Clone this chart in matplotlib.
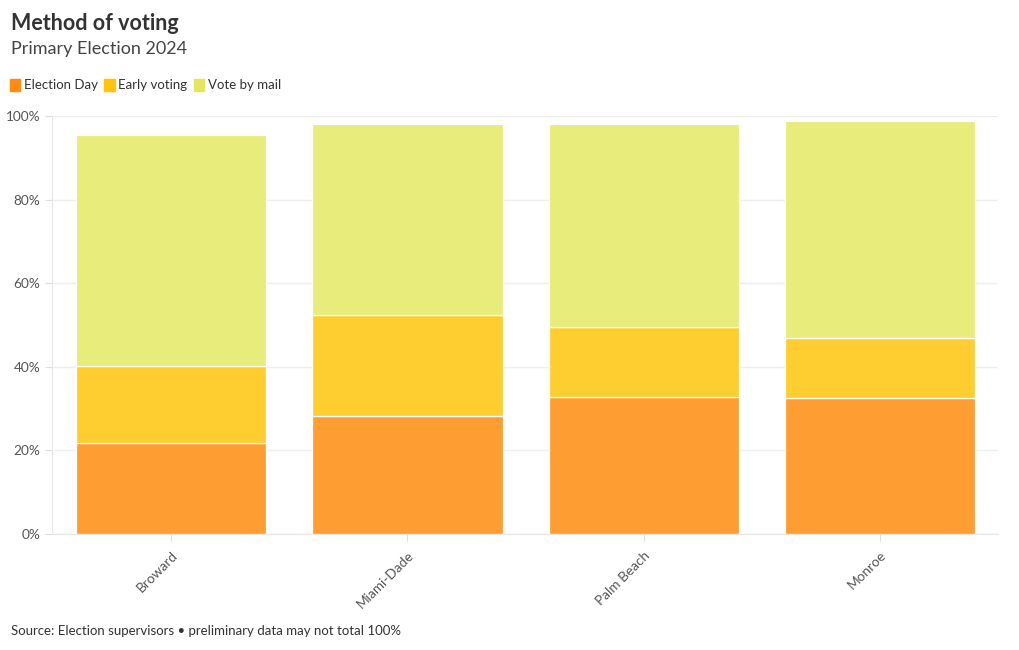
import matplotlib.pyplot as plt
import matplotlib.patches as mpatches
from matplotlib.ticker import FuncFormatter

plt.rcParams['font.family'] = ['Lato', 'DejaVu Sans']

counties = ["Broward", "Miami-Dade", "Palm Beach", "Monroe"]
election_day = [21.8, 28.2, 32.8, 32.5]
early_voting = [18.4, 24.2, 16.7, 14.4]
vote_by_mail = [55.3, 45.7, 48.6, 51.9]

series = ["Election Day", "Early voting", "Vote by mail"]
bar_colors = ["#FE9E32", "#FECE31", "#E8EC7A"]
legend_colors = ["#FF8C0F", "#FFC40C", "#E5E65E"]

fig = plt.figure(figsize=(10.2, 6.5), dpi=100)
ax = fig.add_axes([52 / 1020, 1 - 534 / 650, 946 / 1020, 418 / 650])

x = range(len(counties))
bottom = [0] * len(counties)
for vals, col in zip([election_day, early_voting, vote_by_mail], bar_colors):
    ax.bar(x, vals, width=0.805, bottom=bottom, color=col,
           edgecolor="white", linewidth=0.9, zorder=3)
    bottom = [b + v for b, v in zip(bottom, vals)]

ax.set_xlim(-0.505, 3.5)
ax.set_ylim(0, 100)
ax.set_yticks([0, 20, 40, 60, 80, 100])
ax.yaxis.set_major_formatter(FuncFormatter(lambda v, _: f"{v:.0f}%"))
ax.grid(axis="y", color="#EEEEEE", linewidth=1, zorder=0)
ax.set_xticks(list(x))
ax.set_xticklabels(counties, rotation=45, ha="right", rotation_mode="anchor")

for s in ["top", "right"]:
    ax.spines[s].set_visible(False)
for s in ["left", "bottom"]:
    ax.spines[s].set_color("#E6E6E6")
ax.tick_params(axis="both", colors="#DDDDDD", labelcolor="#555555",
               labelsize=9.8, length=5, width=0.8)
ax.tick_params(axis="x", pad=6)

fig.text(11 / 1020, 1 - 24 / 650, "Method of voting", fontsize=15.5,
         fontweight="bold", color="#333333", va="center")
fig.text(11 / 1020, 1 - 49 / 650, "Primary Election 2024", fontsize=13,
         color="#444444", va="center")

handles = [mpatches.Patch(color=c, label=l) for c, l in zip(legend_colors, series)]
fig.legend(handles=handles, loc="center left", bbox_to_anchor=(-2 / 1020, 1 - 85 / 650),
           ncol=3, frameon=False, fontsize=9.5, handlelength=0.8, handleheight=1.1,
           handletextpad=0.25, columnspacing=0.5, labelcolor="#333333")

fig.text(11 / 1020, 1 - 631 / 650,
         "Source: Election supervisors \u2022 preliminary data may not total 100%",
         fontsize=9.5, color="#333333", va="center")

fig.savefig("out.png", dpi=100)
